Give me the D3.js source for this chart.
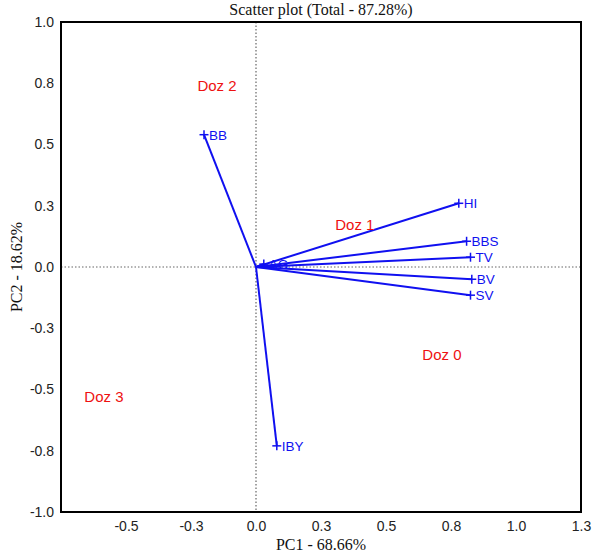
<!DOCTYPE html>
<html>
<head>
<meta charset="utf-8">
<script src="https://cdn.jsdelivr.net/npm/d3@7"></script>
<style>
  html, body { margin: 0; padding: 0; background: #fff; }
  svg { display: block; }
</style>
</head>
<body>
<svg id="chart" width="594" height="557"></svg>
<script>
// ---- data ----
const variables = ["BB", "HI", "BBS", "TV", "BV", "SV", "IBY", "AG"];
const pc1Loadings = [-0.20, 0.78, 0.81, 0.825, 0.83, 0.825, 0.08, 0.03];
const pc2Loadings = [0.54, 0.26, 0.105, 0.04, -0.05, -0.115, -0.73, 0.012];

const groups = ["Doz 0", "Doz 1", "Doz 2", "Doz 3"];
const groupPC1 = [0.715, 0.38, -0.15, -0.585];
const groupPC2 = [-0.36, 0.17, 0.74, -0.53];

const xTickValues = [-0.5, -0.25, 0, 0.25, 0.5, 0.75, 1.0, 1.25];
const xTickLabels = ["-0.5", "-0.3", "0.0", "0.3", "0.5", "0.8", "1.0", "1.3"];
const yTickValues = [-1.0, -0.75, -0.5, -0.25, 0, 0.25, 0.5, 0.75, 1.0];
const yTickLabels = ["-1.0", "-0.8", "-0.5", "-0.3", "0.0", "0.3", "0.5", "0.8", "1.0"];

const titleText = "Scatter plot (Total - 87.28%)";
const xTitle = "PC1 - 68.66%";
const yTitle = "PC2 - 18.62%";

// ---- layout ----
const margin = { left: 61, right: 13, top: 22, bottom: 45 };
const W = 594, H = 557;
const svg = d3.select("#chart");

const x = d3.scaleLinear().domain([-0.75, 1.25]).range([margin.left, W - margin.right]);
const y = d3.scaleLinear().domain([-1, 1]).range([H - margin.bottom, margin.top]);

const serif = "'Liberation Serif', 'Times New Roman', serif";
const sans = "'Liberation Sans', Arial, sans-serif";

// zero lines
svg.append("line")
  .attr("x1", x(0)).attr("x2", x(0))
  .attr("y1", y(1)).attr("y2", y(-1))
  .attr("stroke", "#666").attr("stroke-width", 1.2).attr("stroke-dasharray", "1.5,2");
svg.append("line")
  .attr("x1", x(-0.75)).attr("x2", x(1.25))
  .attr("y1", y(0)).attr("y2", y(0))
  .attr("stroke", "#666").attr("stroke-width", 1.2).attr("stroke-dasharray", "1.5,2");

// axes (labels only, no tick marks)
const xAxis = d3.axisBottom(x).tickValues(xTickValues)
  .tickFormat((d, i) => xTickLabels[i]).tickSize(0).tickPadding(9);
const gx = svg.append("g").attr("transform", `translate(0,${y(-1)})`).call(xAxis);
gx.select(".domain").remove();
gx.selectAll("text").attr("font-family", sans).attr("font-size", 14).attr("fill", "#222");

const yAxis = d3.axisLeft(y).tickValues(yTickValues)
  .tickFormat((d, i) => yTickLabels[i]).tickSize(0).tickPadding(7);
const gy = svg.append("g").attr("transform", `translate(${x(-0.75)},0)`).call(yAxis);
gy.select(".domain").remove();
gy.selectAll("text").attr("font-family", sans).attr("font-size", 14).attr("fill", "#222");

// frame
svg.append("rect")
  .attr("x", x(-0.75)).attr("y", y(1))
  .attr("width", x(1.25) - x(-0.75)).attr("height", y(-1) - y(1))
  .attr("fill", "none").attr("stroke", "#000").attr("stroke-width", 2);

// vectors
const vecs = variables.map((v, i) => ({ name: v, px: pc1Loadings[i], py: pc2Loadings[i] }));
const blue = "#1010f0";
svg.append("g").selectAll("line").data(vecs).join("line")
  .attr("x1", x(0)).attr("y1", y(0))
  .attr("x2", d => x(d.px)).attr("y2", d => y(d.py))
  .attr("stroke", blue).attr("stroke-width", 2);

// cross markers
const cs = 4.5;
const crosses = svg.append("g").selectAll("g").data(vecs).join("g")
  .attr("transform", d => `translate(${x(d.px)},${y(d.py)})`);
crosses.append("line").attr("x1", -cs).attr("x2", cs).attr("y1", 0).attr("y2", 0)
  .attr("stroke", blue).attr("stroke-width", 1.5);
crosses.append("line").attr("x1", 0).attr("x2", 0).attr("y1", -cs).attr("y2", cs)
  .attr("stroke", blue).attr("stroke-width", 1.5);

// vector labels
svg.append("g").selectAll("text").data(vecs).join("text")
  .attr("x", d => x(d.px) + 5)
  .attr("y", d => y(d.py) + 5)
  .attr("font-family", sans).attr("font-size", 13.5)
  .attr("fill", blue)
  .text(d => d.name);

// group labels
const grp = groups.map((g, i) => ({ name: g, px: groupPC1[i], py: groupPC2[i] }));
svg.append("g").selectAll("text").data(grp).join("text")
  .attr("x", d => x(d.px)).attr("y", d => y(d.py) + 5)
  .attr("text-anchor", "middle")
  .attr("font-family", sans).attr("font-size", 15)
  .attr("fill", "#ee1111")
  .text(d => d.name);

// titles
svg.append("text").attr("x", (x(-0.75) + x(1.25)) / 2).attr("y", 15)
  .attr("text-anchor", "middle").attr("font-family", serif).attr("font-size", 16)
  .attr("fill", "#111").text(titleText);
svg.append("text").attr("x", (x(-0.75) + x(1.25)) / 2).attr("y", 550)
  .attr("text-anchor", "middle").attr("font-family", serif).attr("font-size", 16)
  .attr("fill", "#111").text(xTitle);
svg.append("text")
  .attr("transform", `translate(22,${(y(1) + y(-1)) / 2}) rotate(-90)`)
  .attr("text-anchor", "middle").attr("font-family", serif).attr("font-size", 16)
  .attr("fill", "#111").text(yTitle);
</script>
</body>
</html>
